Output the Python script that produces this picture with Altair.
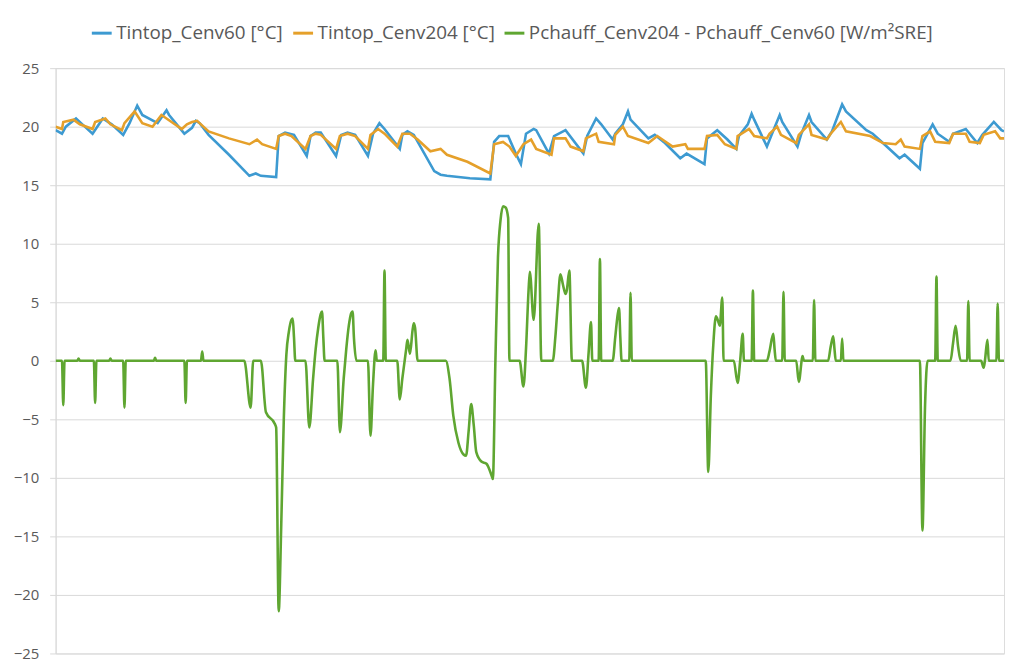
import altair as alt
import pandas as pd

# Series names
S_BLUE = "Tintop_Cenv60 [°C]"
S_ORANGE = "Tintop_Cenv204 [°C]"
S_GREEN = "Pchauff_Cenv204 - Pchauff_Cenv60 [W/m²SRE]"

# Hour of the month / values
blue_h = [0, 5, 8, 16, 21, 29, 37, 44, 53, 58, 64, 68, 80, 87, 89, 101, 107, 110, 113,
          120, 136, 152, 157, 161, 173, 175, 180, 187, 197, 200, 204, 208, 220, 224, 229,
          235, 245, 249, 254, 258, 270, 272, 276, 281, 297, 302, 307, 325, 341, 344, 348,
          355, 361, 365, 369, 375, 377, 387, 391, 400, 414, 417, 424, 428, 437, 439, 445,
          449, 451, 465, 470, 478, 490, 495, 509, 511, 519, 527, 534, 536, 543, 546, 548,
          558, 562, 568, 570, 582, 585, 591, 593, 605, 609, 617, 620, 636, 641, 649, 662,
          666, 678, 680, 688, 692, 701, 704, 714, 723, 727, 736, 742, 744]
blue_v = [19.7, 19.4, 20.0, 20.7, 20.2, 19.4, 20.7, 20.2, 19.3, 20.3, 21.8, 21.0, 20.3, 21.4,
          21.0, 19.4, 19.9, 20.5, 20.3, 19.3, 17.6, 15.8, 16.0, 15.8, 15.7, 19.2, 19.5, 19.3,
          17.5, 19.2, 19.5, 19.5, 17.5, 19.3, 19.5, 19.3, 17.5, 19.4, 20.3, 19.8, 18.1, 19.3,
          19.6, 19.3, 16.2, 15.9, 15.8, 15.6, 15.5, 18.7, 19.2, 19.2, 17.7, 16.8, 19.4, 19.8,
          19.7, 17.7, 19.2, 19.7, 17.7, 19.2, 20.7, 20.2, 18.9, 19.4, 20.2, 21.3, 20.6, 19.0,
          19.3, 18.6, 17.3, 17.7, 16.8, 19.0, 19.7, 18.9, 18.1, 19.2, 20.2, 21.1, 20.6, 18.3,
          19.4, 21.0, 20.4, 18.3, 19.4, 21.0, 20.4, 18.9, 19.6, 21.9, 21.3, 19.7, 19.4, 18.6,
          17.3, 17.6, 16.4, 18.6, 20.2, 19.4, 18.7, 19.4, 19.8, 18.6, 19.3, 20.4, 19.7, 19.6]

orange_h = [0, 5, 6, 14, 19, 29, 31, 39, 43, 52, 54, 62, 68, 76, 83, 87, 99, 103, 107, 111,
            120, 136, 152, 158, 162, 173, 175, 180, 185, 196, 200, 204, 208, 220, 223, 229,
            235, 245, 247, 253, 258, 268, 272, 278, 284, 294, 302, 307, 323, 341, 344, 351,
            356, 361, 367, 373, 377, 389, 391, 400, 404, 414, 416, 424, 426, 438, 439, 445,
            449, 465, 472, 484, 494, 496, 509, 511, 519, 525, 534, 535, 544, 548, 558, 560,
            566, 569, 581, 583, 591, 593, 605, 608, 616, 620, 639, 649, 659, 663, 666, 678,
            680, 686, 690, 701, 704, 714, 717, 725, 728, 737, 741, 744]
orange_v = [20.0, 19.8, 20.4, 20.6, 20.2, 19.8, 20.4, 20.7, 20.2, 19.7, 20.3, 21.3, 20.3,
            20.0, 21.0, 20.7, 19.8, 20.2, 20.4, 20.5, 19.6, 19.0, 18.5, 18.9, 18.5, 18.1,
            19.2, 19.4, 19.2, 18.1, 19.2, 19.4, 19.3, 18.1, 19.2, 19.4, 19.2, 18.1, 19.3,
            19.8, 19.4, 18.3, 19.4, 19.4, 18.9, 17.9, 18.1, 17.6, 17.0, 16.0, 18.5, 18.7,
            18.3, 17.5, 18.5, 18.9, 18.1, 17.6, 19.0, 19.0, 18.3, 17.9, 19.0, 19.4, 18.7,
            18.5, 19.3, 20.0, 19.2, 18.6, 19.2, 18.3, 18.5, 18.1, 18.1, 19.2, 19.3, 18.5,
            18.1, 19.2, 19.8, 19.2, 19.0, 19.4, 20.0, 19.3, 18.6, 19.3, 20.2, 19.3, 18.9,
            19.4, 20.4, 19.6, 19.2, 18.6, 18.5, 18.9, 18.3, 18.1, 19.2, 19.6, 18.7, 18.6,
            19.4, 19.4, 18.7, 18.6, 19.3, 19.6, 19.0, 19.0]

green_h = [0, 5, 6, 7, 17, 18, 19, 30, 31, 32, 42, 43, 44, 53, 54, 55, 77, 78, 79, 101, 102,
           103, 114, 115, 116, 148, 153, 155, 161, 165, 172, 173, 175, 177, 179, 181, 183,
           185, 186, 187, 188, 196, 199, 202, 204, 206, 208, 209, 210, 211, 221, 223, 226,
           228, 230, 232, 233, 234, 236, 245, 247, 249, 251, 252, 257, 258, 259, 268, 270,
           272, 275, 276, 278, 280, 281, 282, 284, 306, 309, 312, 316, 320, 322, 324, 326,
           328, 330, 334, 338, 342, 343, 345, 347, 349, 351, 353, 355, 356, 364, 367, 369,
           371, 372, 375, 379, 381, 390, 392, 394, 396, 398, 400, 401, 403, 405, 413, 416,
           418, 420, 421, 426, 427, 428, 437, 439, 441, 442, 443, 444, 450, 451, 452, 510,
           512, 514, 516, 518, 520, 521, 523, 524, 532, 535, 537, 539, 540, 546, 547, 548,
           558, 560, 563, 564, 565, 570, 571, 572, 581, 583, 586, 587, 594, 595, 596, 606,
           608, 610, 611, 612, 616, 617, 618, 678, 680, 682, 684, 690, 691, 692, 702, 704,
           706, 708, 710, 715, 716, 717, 726, 728, 729, 731, 732, 738, 739, 740, 744]
green_v = [0, 0, -3.8, 0, 0, 0.2, 0, 0, -3.6, 0, 0, 0.2, 0, 0, -4.0, 0, 0, 0.25, 0, 0, -3.6,
           0, 0, 0.8, 0, 0, -4.0, 0, 0, -4.4, -5.4, -5.7, -21.4, -14.0, -5.0, 0.5, 2.5, 3.5,
           3.6, 2.0, 0, 0, -5.7, -1.5, 1.0, 2.8, 4.0, 4.2, 2.0, 0, 0, -6.1, -1.5, 1.0, 3.0,
           4.1, 4.2, 2.0, 0, 0, -6.4, -2.0, 0.9, 0, 0, 7.7, 0, 0, -3.3, -1.5, 1.0, 1.8, 0.6,
           2.6, 3.2, 2.8, 0, 0, -1.5, -4.7, -7.0, -8.0, -8.1, -6.0, -3.7, -5.5, -7.8, -8.6,
           -8.8, -9.8, -10.1, 0, 8.8, 12.0, 13.2, 13.1, 12.2, 0, 0, -2.2, 1.0, 6.0, 7.6, 3.5,
           11.7, 0, 0, 2.0, 5.0, 7.4, 6.5, 5.7, 6.0, 7.7, 0, 0, -2.3, 0.5, 3.3, 0, 0, 8.7, 0,
           0, 2.0, 4.0, 4.5, 2.0, 0, 0, 5.8, 0, 0, -9.5, -3.0, 1.5, 3.8, 3.3, 3.0, 5.4, 0, 0,
           -1.9, 0, 2.3, 0, 0, 6.0, 0, 0, 0.8, 2.3, 1.0, 0, 0, 5.9, 0, 0, -1.8, 0.4, 0, 0,
           5.2, 0, 0, 1.2, 2.1, 1.0, 0, 0, 1.9, 0, 0, -14.5, -4.0, 0, 0, 7.2, 0, 0, 1.5, 3.0,
           1.2, 0, 0, 5.1, 0, 0, -0.6, 0, 1.8, 0, 0, 4.9, 0, 0]

y_ticks = [-25, -20, -15, -10, -5, 0, 5, 10, 15, 20, 25]

series_names = [S_BLUE, S_ORANGE, S_GREEN]
series_colors = ["#3d9ad1", "#e5a02a", "#5fa631"]

frames = []
for name, hs, vs in [(S_BLUE, blue_h, blue_v), (S_ORANGE, orange_h, orange_v), (S_GREEN, green_h, green_v)]:
    frames.append(pd.DataFrame({"h": hs, "v": vs, "serie": name}))
df = pd.concat(frames, ignore_index=True)

FONT = "Open Sans"

x_enc = alt.X("h:Q", scale=alt.Scale(domain=[0, 744], nice=False, zero=False), axis=None)
y_enc = alt.Y("v:Q", scale=alt.Scale(domain=[-25, 25], nice=False),
              axis=alt.Axis(values=y_ticks, title=None, grid=True, gridColor="#d9d9d9",
                            gridWidth=1, domain=True, domainColor="#d9d9d9", ticks=True,
                            tickColor="#d9d9d9", tickSize=6, labelPadding=11,
                            labelFont=FONT, labelFontSize=15, labelColor="#595959"))
color_enc = alt.Color("serie:N",
                      scale=alt.Scale(domain=series_names, range=series_colors),
                      legend=alt.Legend(title=None, orient="none", legendX=35, legendY=-47,
                                        direction="horizontal", symbolType="stroke",
                                        symbolStrokeWidth=3, symbolSize=400,
                                        labelFont=FONT, labelFontSize=19, labelColor="#595959",
                                        labelLimit=700, columnPadding=3, labelOffset=3,
                                        padding=0))

base = alt.Chart(df)
layers = []
for name in series_names:
    interp = "monotone" if name == S_GREEN else "linear"
    layers.append(
        base.transform_filter(alt.datum.serie == name)
        .mark_line(strokeWidth=2.6, interpolate=interp, clip=True)
        .encode(x=x_enc, y=y_enc, color=color_enc)
    )

chart = alt.layer(*layers).properties(
    width=956, height=590,
    autosize=alt.AutoSizeParams(type="none"),
    padding={"left": 48, "top": 58, "right": 4, "bottom": 6},
).configure_view(stroke=None).configure(background="white")

chart.save("out.html", embed_options={"renderer": "svg", "actions": False})
